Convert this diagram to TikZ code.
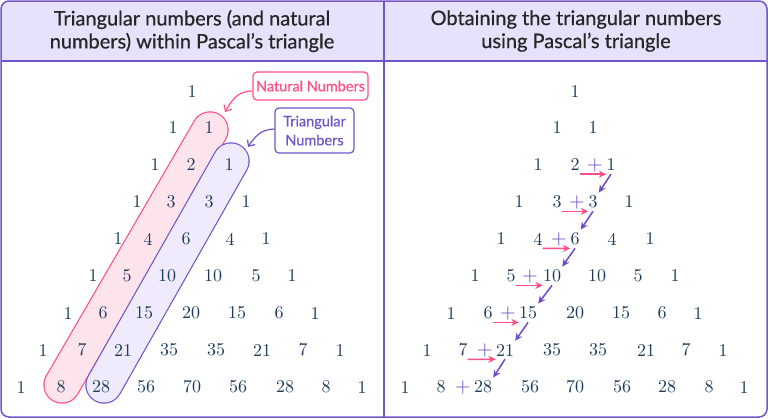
\documentclass[tikz,border=0pt]{standalone}
\usepackage{fontspec}
\newfontfamily\lato{Lato}[FakeBold=0.6]
\newfontfamily\numfont{lmroman10-regular.otf}
\usetikzlibrary{arrows.meta}
\definecolor{bord}{HTML}{7355C9}
\definecolor{headfill}{HTML}{E7E2FB}
\definecolor{pinkc}{HTML}{FF4F86}
\definecolor{pinkfill}{HTML}{FDE4EC}
\definecolor{purpfill}{HTML}{EFEBFD}
\definecolor{numc}{HTML}{1E3D5C}
\definecolor{purpc}{HTML}{6F4BC6}
\begin{document}
\begin{tikzpicture}[x=1pt,y=-1pt,
  num/.style={font=\numfont\fontsize{18}{20}\selectfont, text=numc, inner sep=0pt},
  head/.style={font=\lato\fontsize{20}{23}\selectfont, text=black!85, align=center, inner sep=0pt},
  lab/.style={font=\lato\fontsize{14.5}{19}\selectfont, rounded corners=4pt, line width=1.2pt, fill=white, align=center, inner sep=0pt},
  labarr/.style={line width=1.2pt, -{Straight Barb[length=5pt,width=9pt]}},
  plus/.style={font=\numfont\fontsize{20}{20}\selectfont, text=purpc, inner sep=0pt},
  parr/.style={pinkc, line width=1.5pt, -{Stealth[length=7.5pt,width=7pt]}},
  uarr/.style={purpc, line width=1.5pt, -{Stealth[length=7.5pt,width=7pt]}},
  capout/.style={line width=37.4pt, line cap=round},
  capin/.style={line width=35pt, line cap=round}
]
\useasboundingbox (0,0) rectangle (768,418);
% frame
\begin{scope}
  \clip[rounded corners=8pt] (1,1) rectangle (767,417);
  \fill[white] (0,0) rectangle (768,418);
  \fill[headfill] (0,0) rectangle (768,61);
\end{scope}
\draw[bord, line width=1.5pt] (1,61) -- (767,61);
\draw[bord, line width=1.5pt] (384,1) -- (384,417);
\draw[bord, line width=1.5pt, rounded corners=8pt] (1,1) rectangle (767,417);

% headers
\node[head] (h1) at (192,31) {Triangular numbers (and natural\\numbers) within Pascal’s triangle};
\node[head] (h2) at (576,31) {Obtaining the triangular numbers\\using Pascal’s triangle};

% capsules
\coordinate (pa) at (210,130); \coordinate (pb) at (62,385);
\coordinate (qa) at (231,161); \coordinate (qb) at (104,385);
\draw[capout, pinkc] (pa) -- (pb);
\draw[capin, pinkfill] (pa) -- (pb);
\draw[capout, bord] (qa) -- (qb);
\draw[capin, purpfill] (qa) -- (qb);

% left triangle
\foreach \r/\yy/\lst in {
  0/92/{192/1},
  1/128/{173/1,209/1},
  2/165/{155/1,191/2,229/1},
  3/202/{137/1,171/3,209/3,246/1},
  4/239/{118/1,148/4,186/6,230/4,266/1},
  5/276/{93/1,127/5,167/10,213/10,256/5,292/1},
  6/313/{68/1,103/6,144/15,191/20,237/15,279/6,315/1},
  7/350/{43/1,82/7,123/21,169/35,216/35,262/21,303/7,340/1},
  8/387/{21/1,61/8,101/28,146/56,192/70,238/56,285/28,326/8,362/1}}{
  \foreach \xx/\v [count=\k] in \lst {
    \node[num] (L-\r-\k) at (\xx,\yy) {\v};
  }
}

% right triangle
\foreach \r/\yy/\lst in {
  0/92/{575/1},
  1/128/{557/1,593/1},
  2/165/{538/1,575/2,611/1},
  3/202/{519/1,557/3,593/3,629/1},
  4/239/{501/1,538/4,575/6,612/4,650/1},
  5/276/{475/1,511/5,552/10,597/10,638/5,675/1},
  6/313/{451/1,488/6,528/15,575/20,621/15,662/6,698/1},
  7/350/{427/1,463/7,505/21,552/35,598/35,646/21,686/7,723/1},
  8/387/{405/1,441/8,483/28,530/56,575/70,622/56,667/28,709/8,744/1}}{
  \foreach \xx/\v [count=\k] in \lst {
    \node[num] (R-\r-\k) at (\xx,\yy) {\v};
  }
}

% plus signs
\foreach \r/\xx/\yy in {2/595/165,3/577/202,4/559/239,5/530/276,6/508/313,7/485/350,8/463/387}{
  \node[plus] (p-\r) at (\xx,\yy) {+};
}

% arrows
\foreach \r [evaluate=\r as \n using int(\r+1)] in {2,...,7}{
  \draw[parr] ([yshift=-3pt]R-\r-2.south east) -- ([yshift=-3pt]R-\r-3.south west);
  \draw[uarr] ([yshift=-3pt]R-\r-3.south) -- ([shift={(1pt,3pt)}]R-\n-3.north east);
}

% labels
\node[lab, draw=pinkc, text=pinkc, minimum width=115pt, minimum height=28pt] (nat) at (310.5,86) {Natural Numbers};
\node[lab, draw=bord, text=bord, minimum width=79pt, minimum height=45pt] (tri) at (314.5,130.5) {Triangular\\Numbers};
\coordinate (natend) at (225,112);
\coordinate (triend) at (248,147);
\draw[labarr, pinkc] ([yshift=-5pt]nat.west) .. controls +(-16,0) and +(6,-10) .. (natend);
\draw[labarr, bord] ([yshift=1.5pt]tri.west) .. controls +(-14,0) and +(6,-9) .. (triend);
\end{tikzpicture}
\end{document}
